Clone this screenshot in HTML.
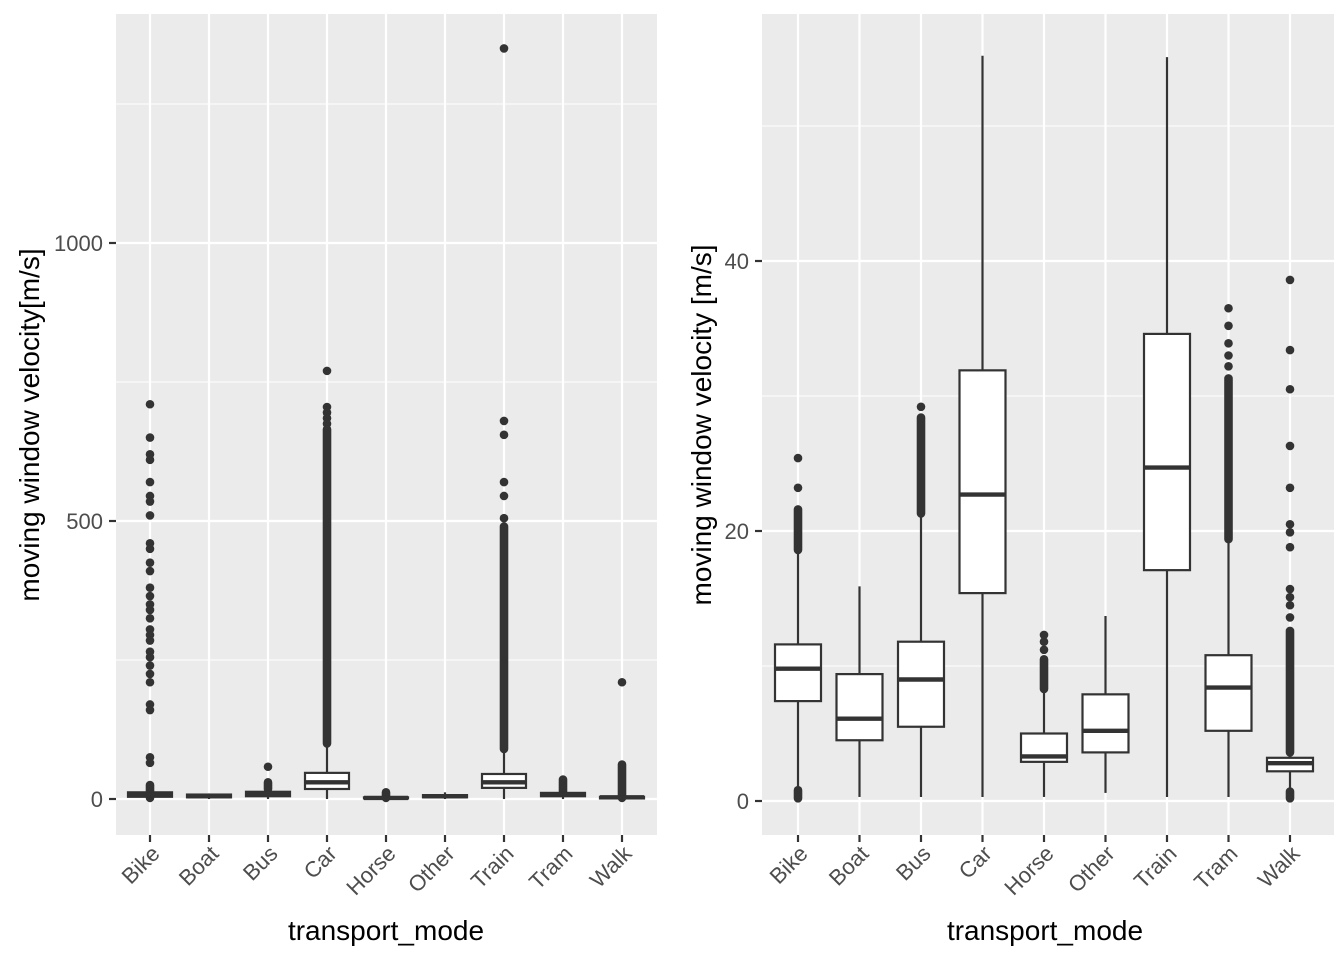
<!DOCTYPE html>
<html><head><meta charset="utf-8"><style>
html,body{margin:0;padding:0;background:#fff;}
svg{display:block;font-family:"Liberation Sans",Arial,sans-serif;}
</style></head><body>
<svg id="s" width="1344" height="960" viewBox="0 0 1344 960" xmlns="http://www.w3.org/2000/svg">
<rect x="0" y="0" width="1344" height="960" fill="#fff"/>
<rect x="116" y="14" width="541" height="821" fill="#ebebeb"/>
<g stroke="#fff" stroke-width="1.1">
<line x1="116" x2="657" y1="660" y2="660"/><line x1="116" x2="657" y1="382" y2="382"/><line x1="116" x2="657" y1="104" y2="104"/>
</g>
<g stroke="#fff" stroke-width="2.2">
<line x1="116" x2="657" y1="799" y2="799"/><line x1="116" x2="657" y1="521" y2="521"/><line x1="116" x2="657" y1="243" y2="243"/>
</g>
<rect x="762" y="14" width="572" height="821" fill="#ebebeb"/>
<g stroke="#fff" stroke-width="1.1">
<line x1="762" x2="1334" y1="666" y2="666"/><line x1="762" x2="1334" y1="396" y2="396"/><line x1="762" x2="1334" y1="126" y2="126"/>
</g>
<g stroke="#fff" stroke-width="2.2">
<line x1="762" x2="1334" y1="801" y2="801"/><line x1="762" x2="1334" y1="531" y2="531"/><line x1="762" x2="1334" y1="261" y2="261"/>
</g>
<g id="data"></g>
<g stroke="#333" stroke-width="2.2">
<line x1="109" x2="116" y1="799" y2="799"/><line x1="109" x2="116" y1="521" y2="521"/><line x1="109" x2="116" y1="243" y2="243"/>
<line x1="755" x2="762" y1="801" y2="801"/><line x1="755" x2="762" y1="531" y2="531"/><line x1="755" x2="762" y1="261" y2="261"/>
</g>
<g id="xt" stroke="#333" stroke-width="2.2"></g>
<g font-size="22" fill="#4d4d4d" text-anchor="end">
<text x="103" y="807">0</text><text x="103" y="529">500</text><text x="103" y="251">1000</text>
<text x="749" y="809">0</text><text x="749" y="539">20</text><text x="749" y="269">40</text>
</g>
<g font-size="22" fill="#4d4d4d" text-anchor="end">
<text transform="translate(161,855) rotate(-45)">Bike</text>
<text transform="translate(220,855) rotate(-45)">Boat</text>
<text transform="translate(279,855) rotate(-45)">Bus</text>
<text transform="translate(338,855) rotate(-45)">Car</text>
<text transform="translate(397,855) rotate(-45)">Horse</text>
<text transform="translate(456,855) rotate(-45)">Other</text>
<text transform="translate(515,855) rotate(-45)">Train</text>
<text transform="translate(574,855) rotate(-45)">Tram</text>
<text transform="translate(633,855) rotate(-45)">Walk</text>
<text transform="translate(809,855) rotate(-45)">Bike</text>
<text transform="translate(870,855) rotate(-45)">Boat</text>
<text transform="translate(932,855) rotate(-45)">Bus</text>
<text transform="translate(993,855) rotate(-45)">Car</text>
<text transform="translate(1055,855) rotate(-45)">Horse</text>
<text transform="translate(1116,855) rotate(-45)">Other</text>
<text transform="translate(1178,855) rotate(-45)">Train</text>
<text transform="translate(1239,855) rotate(-45)">Tram</text>
<text transform="translate(1301,855) rotate(-45)">Walk</text>
</g>
<g font-size="28" fill="#000" text-anchor="middle">
<text x="386" y="940">transport_mode</text>
<text x="1045" y="940">transport_mode</text>
<text transform="translate(39,425) rotate(-90)">moving window velocity[m/s]</text>
<text transform="translate(711,425) rotate(-90)">moving window velocity [m/s]</text>
</g>
</svg>
<script>
const NS="http://www.w3.org/2000/svg",D=document.getElementById('data'),XT=document.getElementById('xt');
function el(t,a,p){const e=document.createElementNS(NS,t);for(const k in a)e.setAttribute(k,a[k]);(p||D).appendChild(e);return e;}
const C="#333333";
function pt(x,y){el('circle',{cx:x,cy:y,r:4.3,fill:C});}
function dense(x,y1,y2){el('line',{x1:x,x2:x,y1:y1,y2:y2,stroke:C,'stroke-width':8.6,'stroke-linecap':'round'});}
function box(x,w,lo,q1,med,q3,hi){
 el('line',{x1:x,x2:x,y1:hi,y2:q3,stroke:C,'stroke-width':2.2});
 el('line',{x1:x,x2:x,y1:q1,y2:lo,stroke:C,'stroke-width':2.2});
 el('rect',{x:x-w/2,y:q3,width:w,height:Math.max(q1-q3,0.1),fill:'#fff',stroke:C,'stroke-width':2.2});
 el('line',{x1:x-w/2,x2:x+w/2,y1:med,y2:med,stroke:C,'stroke-width':4.4});
}
const L=[150,209,268,327,386,445,504,563,622];
L.forEach(x=>el('line',{x1:x,x2:x,y1:14,y2:835,stroke:'#fff','stroke-width':2.2},D));
const R=[798,859.5,921,982.5,1044,1105.5,1167,1228.5,1290];
R.forEach(x=>el('line',{x1:x,x2:x,y1:14,y2:835,stroke:'#fff','stroke-width':2.2},D));
L.concat(R).forEach(x=>el('line',{x1:x,x2:x,y1:835,y2:842},XT));
const ly=v=>799-0.556*v;
[710,650,620,610,570,545,535,510,460,450,425,410,380,365,350,340,325,305,295,285,265,255,240,225,210,170,160,75,65].forEach(v=>pt(150,ly(v)));
dense(150,ly(25),ly(2));
box(150,44,ly(0),ly(4),ly(8),ly(12),ly(18));
box(209,44,ly(0),ly(3),ly(5),ly(8),ly(10));
pt(268,ly(58));dense(268,ly(30),ly(18));
box(268,44,ly(0),ly(5),ly(9),ly(13),ly(18));
pt(327,ly(770));[705,695,685,675].forEach(v=>pt(327,ly(v)));dense(327,ly(665),ly(100));
box(327,44,ly(0),ly(18),ly(30),ly(47),ly(98));
dense(386,ly(12),ly(2));box(386,44,ly(0),ly(1),ly(2),ly(3),ly(5));
box(445,44,ly(0),ly(3),ly(5),ly(7),ly(12));
pt(504,ly(1350));pt(504,ly(680));pt(504,ly(655));pt(504,ly(570));pt(504,ly(545));pt(504,ly(505));
dense(504,ly(490),ly(90));
box(504,44,ly(0),ly(20),ly(30),ly(45),ly(88));
dense(563,ly(35),ly(12));box(563,44,ly(0),ly(5),ly(8),ly(11),ly(18));
pt(622,ly(210));dense(622,ly(62),ly(2));box(622,44,ly(0),ly(1),ly(3),ly(4),ly(6));
const ry=v=>801-13.5*v;
dense(798,ry(21.6),ry(18.6));pt(798,ry(23.2));pt(798,ry(25.4));dense(798,ry(0.8),ry(0.2));
box(798,46,ry(0.9),ry(7.4),ry(9.8),ry(11.6),ry(18.5));
box(859.5,46,ry(0.3),ry(4.5),ry(6.1),ry(9.4),ry(15.9));
dense(921,ry(28.4),ry(21.3));pt(921,ry(29.2));
box(921,46,ry(0.3),ry(5.5),ry(9),ry(11.8),ry(21.2));
box(982.5,46,ry(0.3),ry(15.4),ry(22.7),ry(31.9),ry(55.2));
dense(1044,ry(10.5),ry(8.3));pt(1044,ry(11.2));pt(1044,ry(11.8));pt(1044,ry(12.3));
box(1044,46,ry(0.3),ry(2.9),ry(3.3),ry(5),ry(8.2));
box(1105.5,46,ry(0.6),ry(3.6),ry(5.2),ry(7.9),ry(13.7));
box(1167,46,ry(0.3),ry(17.1),ry(24.7),ry(34.6),ry(55.1));
dense(1228.5,ry(31.3),ry(19.4));[32.2,33,33.9,35.2,36.5].forEach(v=>pt(1228.5,ry(v)));
box(1228.5,46,ry(0.3),ry(5.2),ry(8.4),ry(10.8),ry(19.3));
dense(1290,ry(12.6),ry(3.6));[13.6,14.5,15.1,15.7,18.8,19.9,20.5,23.2,26.3,30.5,33.4,38.6].forEach(v=>pt(1290,ry(v)));
dense(1290,ry(0.7),ry(0.2));
box(1290,46,ry(0.9),ry(2.2),ry(2.8),ry(3.2),ry(3.5));
</script>
</body></html>
